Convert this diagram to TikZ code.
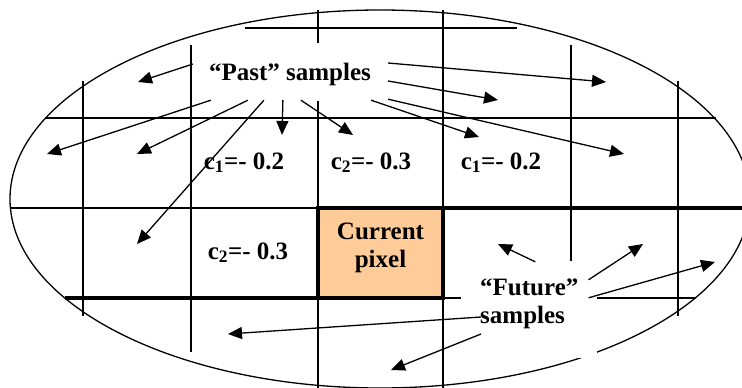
\documentclass[tikz,border=0pt]{standalone}
\usepackage{fontspec}
\setmainfont{Liberation Serif}
\usetikzlibrary{arrows.meta,calc}
\definecolor{pixfill}{HTML}{FFCC99}
\tikzset{
  gridline/.style={line width=1.3pt},
  edgeline/.style={line width=4pt},
  pixbox/.style={draw, line width=4pt, fill=pixfill, minimum width=125pt,
                 minimum height=90pt, inner sep=0pt},
  bigtext/.style={font=\bfseries\fontsize{25}{28}\selectfont},
  coeff/.style={bigtext, anchor=base, inner sep=0pt},
  maskbox/.style={bigtext, fill=white, inner ysep=0pt},
  samparr/.style={-{Triangle[length=14pt,width=12pt]}, line width=1.3pt},
}
\begin{document}
\begin{tikzpicture}[x=1pt,y=-1pt]
\useasboundingbox (0,0) rectangle (742,388);
\draw[gridline] (380,199) ellipse [x radius=370pt, y radius=189pt];
\draw[gridline] (83,81) -- (83,316);
\draw[gridline] (191,45) -- (191,352);
\draw[gridline] (318,10) -- (318,388);
\draw[gridline] (443,10) -- (443,388);
\draw[gridline] (571,45) -- (571,352);
\draw[gridline] (678,81) -- (678,316);
\draw[gridline] (245,28) -- (517,28);
\draw[gridline] (45,118) -- (716,118);
\draw[gridline] (10,208) -- (318,208);
\draw[gridline] (443,298) -- (696,298);
\draw[edgeline] (65,298) -- (318,298);
\draw[edgeline] (443,208) -- (752,208);
\node[pixbox] (cur) at (380.5,253) {};
\node[bigtext, align=center] (curtxt) at ([yshift=5pt]cur.center) {Current\\pixel};
\node[coeff] (ca) at (244,169) {c\textsubscript{1}=- 0.2};
\node[coeff] (cb) at (371,169) {c\textsubscript{2}=- 0.3};
\node[coeff] (cc) at (501,169) {c\textsubscript{1}=- 0.2};
\node[coeff] (cd) at (248,259) {c\textsubscript{2}=- 0.3};
\node[maskbox, anchor=base, text height=37pt, text depth=21pt, inner xsep=8pt]
  (past) at (290,80) {“Past” samples};
\node[maskbox, align=left, anchor=base west, text height=62pt, text depth=35pt,
  inner xsep=19pt] (fut) at (461,323) {“Future”\\samples};
\coordinate (p1) at (138,82);
\coordinate (p2) at (47,154);
\coordinate (p3) at (137,154);
\coordinate (p4) at (137,244);
\coordinate (p5) at (282,135);
\coordinate (p6) at (353,135);
\coordinate (p7) at (606,82);
\coordinate (p8) at (498,100);
\coordinate (p9) at (479,137);
\coordinate (p10) at (624,154);
\coordinate (f1) at (498,244);
\coordinate (f2) at (643,244);
\coordinate (f3) at (715,262);
\coordinate (f4) at (228,334);
\coordinate (f5) at (391,370);
\draw[samparr] ($(past.west)+(-8,-8)$) -- (p1);
\draw[samparr] ($(past.south west)+(10,-1)$) -- (p2);
\draw[samparr] ($(past.south west)+(47,-1)$) -- (p3);
\draw[samparr] ($(past.south west)+(63,-1)$) -- (p4);
\draw[samparr] ($(past.south west)+(82,-1)$) -- (p5);
\draw[samparr] ($(past.south west)+(100,-1)$) -- (p6);
\draw[samparr] ($(past.east)+(9,-9)$) -- (p7);
\draw[samparr] ($(past.east)+(9,9)$) -- (p8);
\draw[samparr] ($(past.south east)+(-8,-1)$) -- (p9);
\draw[samparr] ($(past.south east)+(9,-2)$) -- (p10);
\draw[samparr] ($(fut.north)+(6,1)$) -- (f1);
\draw[samparr] ($(fut.north east)+(-9,19)$) -- (f2);
\draw[samparr] ($(fut.north east)+(-9,37)$) -- (f3);
\draw[samparr] ($(fut.west)+(20,7.5)$) -- (f4);
\draw[samparr] ($(fut.west)+(20,24.5)$) -- (f5);
\end{tikzpicture}
\end{document}
